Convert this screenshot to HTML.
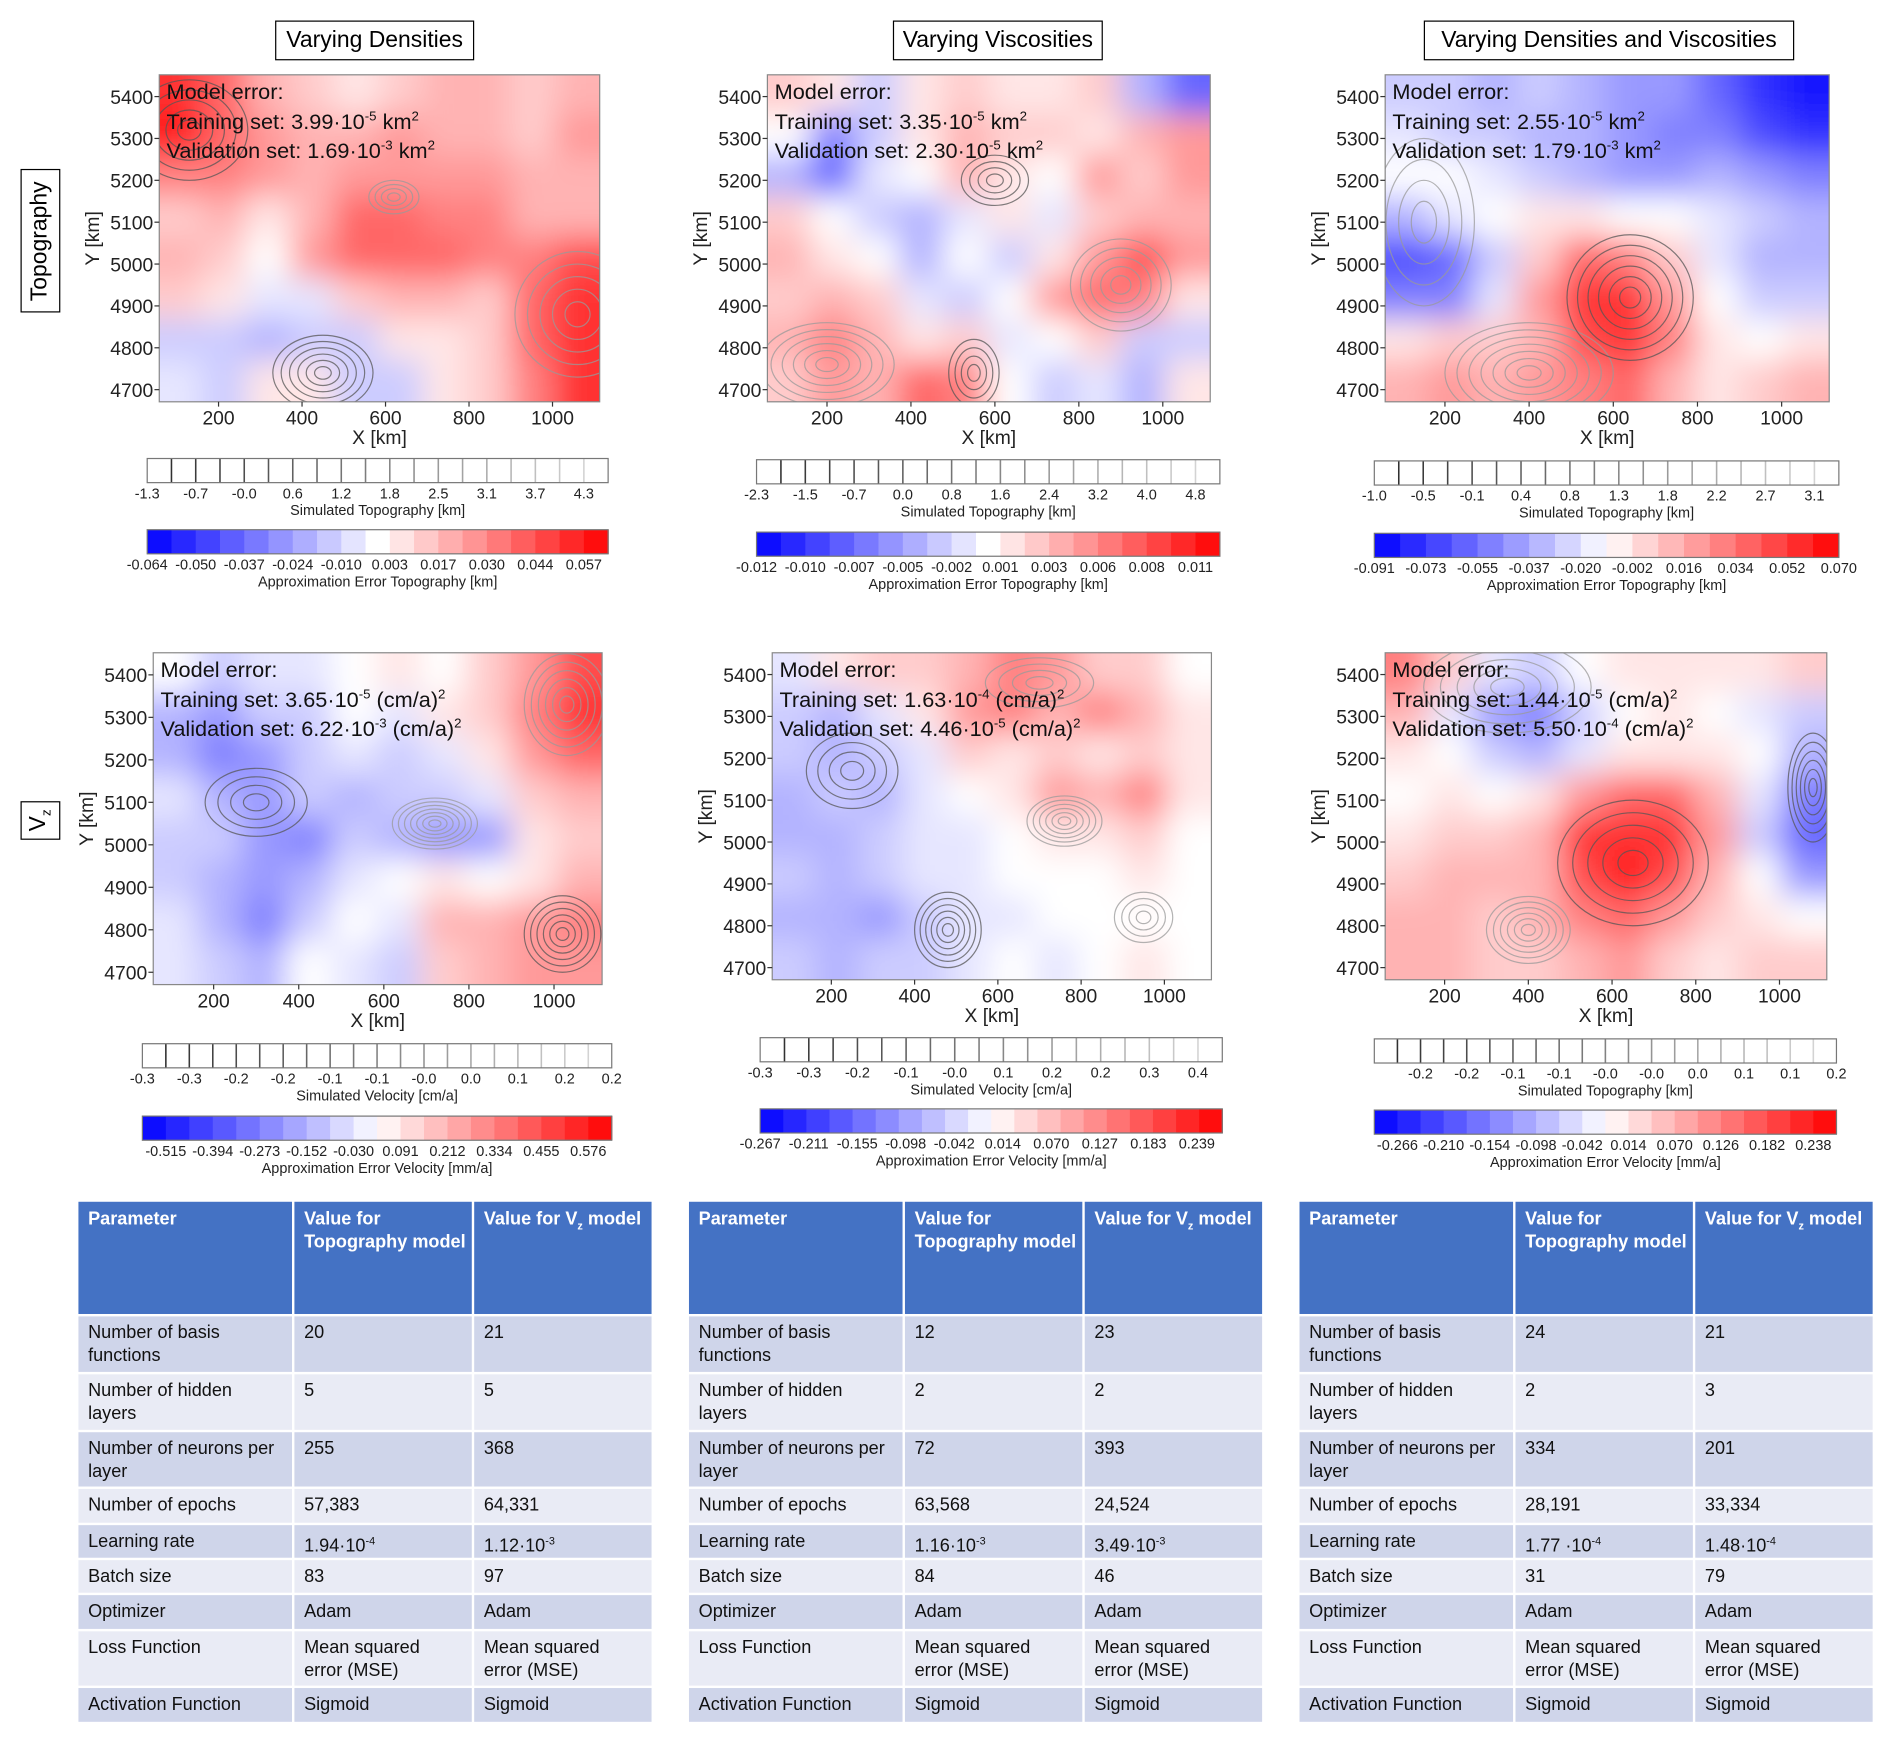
<!DOCTYPE html>
<html><head><meta charset="utf-8">
<style>
html,body{margin:0;padding:0;background:#fff;width:1892px;height:1742px;overflow:hidden}
#root{position:absolute;left:0;top:0;width:1568px;height:1444px;transform:scale(1.2066);transform-origin:0 0;font-family:"Liberation Sans",sans-serif}
.box{position:absolute;border:1.5px solid #000;background:#fff;font-size:19px;display:flex;align-items:center;justify-content:center;box-sizing:border-box}
.tbl{position:absolute;font-size:15px;color:#111}
.cell{position:absolute;box-sizing:border-box;padding:5px 8px;line-height:19px}
.hd{background:#4472C4;color:#fff;font-weight:bold}
.r0{background:#CFD5EA}.r1{background:#E9EBF5}
</style></head><body>
<div id="root">
<svg id="svg" width="1568" height="1444" style="position:absolute;left:0;top:0">
<defs><filter id="blur" x="-5%" y="-5%" width="110%" height="110%"><feGaussianBlur stdDeviation="13"/></filter></defs>
</svg>
<div class="box" style="left:228px;top:17px;width:165px;height:33px">Varying Densities</div>
<div class="box" style="left:740px;top:17px;width:174px;height:33px">Varying Viscosities</div>
<div class="box" style="left:1180px;top:17px;width:307px;height:33px">Varying Densities and Viscosities</div>
<div class="box" style="left:17px;top:140px;width:33px;height:119px"><span style="transform:rotate(-90deg);white-space:nowrap">Topography</span></div>
<div class="box" style="left:17px;top:664px;width:33px;height:32px"><span style="transform:rotate(-90deg);white-space:nowrap">V<sub style="font-size:11px">z</sub></span></div>
</div>
<script>
// ---------- data ----------
const xTicks=[200,400,600,800,1000];
const yTicks=[4700,4800,4900,5000,5100,5200,5300,5400];
const gridA1=[[0.8,0.6,0.3,0.2,0.1,0.2,0.3,0.3,0.2,0.3],[0.9,0.6,0.4,0.3,0.3,0.4,0.3,0.3,0.2,0.4],[0.5,0.5,0.4,0.3,0.4,0.4,0.4,0.4,0.3,0.3],[0.2,0.3,0.1,0.3,0.6,0.6,0.5,0.5,0.3,0.3],[0.3,0.2,0,0.4,0.6,0.6,0.6,0.5,0.5,0.7],[0.2,0.1,-0.1,-0.1,0.2,0.3,0.3,0.2,0.6,0.8],[-0.2,-0.2,-0.3,-0.2,-0.2,0.1,0.1,0.2,0.6,0.8],[-0.1,-0.2,0.1,0.1,-0.2,-0.2,0.1,0.2,0.5,0.8]];
const gridB1=[[0.2,0.1,-0.2,0.1,0.2,0.1,0.1,0.2,-0.3,-0.6],[0,-0.5,-0.2,0.1,0.3,0.2,0.2,0.1,0.3,0.4],[-0.3,-0.6,-0.1,0,0.3,0.1,0,0.4,0.2,0.4],[0.2,0,-0.2,-0.3,-0.1,0.1,-0.1,0.2,0.3,0.3],[0.3,0.1,0,-0.3,0,-0.2,0.1,0.4,0.7,0.4],[0.2,0.3,0.2,-0.1,-0.2,0,0.4,0.6,0.5,0.1],[0.3,0.5,0.3,0.1,0.2,-0.1,0,0.2,-0.2,-0.2],[0.2,0.4,0.3,0.6,0.5,0,-0.2,-0.1,-0.3,0.1]];
const gridC1=[[-0.2,-0.2,-0.3,-0.2,-0.3,-0.4,-0.4,-0.6,-0.8,-0.9],[-0.1,-0.2,-0.2,-0.3,-0.3,-0.4,-0.5,-0.5,-0.7,-0.8],[0,0,-0.1,-0.2,-0.3,-0.4,-0.4,-0.3,-0.4,-0.5],[-0.3,-0.1,0,0.1,0.1,0,0,-0.1,-0.2,-0.3],[-0.7,-0.6,-0.2,0.2,0.6,0.5,0.2,-0.1,-0.3,-0.3],[-0.5,-0.5,-0.1,0.4,0.8,0.8,0.4,0,-0.2,-0.2],[0.1,0.2,0.2,0.3,0.7,0.8,0.5,0.1,0,0.1],[0.3,0.4,0.3,0.4,0.5,0.6,0.3,0.1,0.2,0.3]];
const gridA2=[[0,-0.2,-0.1,-0.1,0,0.1,0,0.2,0.4,0.7],[-0.3,-0.4,-0.2,-0.2,0,-0.1,0.1,0.2,0.5,0.8],[-0.3,-0.5,-0.4,-0.2,-0.1,-0.2,-0.1,0.1,0.4,0.6],[-0.1,-0.3,-0.4,-0.2,-0.3,-0.2,-0.2,-0.1,0.2,0.3],[-0.2,-0.2,-0.4,-0.5,-0.2,-0.3,-0.4,-0.4,0.1,0.2],[-0.2,-0.3,-0.4,-0.3,-0.1,0,0.1,0,0.1,0.3],[-0.1,-0.3,-0.5,-0.2,0,-0.1,0.3,0.3,0.4,0.5],[-0.1,-0.2,-0.3,0,-0.1,-0.2,0.2,0.3,0.4,0.4]];
const gridB2=[[-0.1,0.1,0.2,0.2,0.3,0.5,0.4,0.2,0.2,0],[-0.2,-0.3,-0.1,0.1,0.4,0.5,0.3,0.5,0.3,0.1],[-0.2,-0.3,-0.2,-0.1,0.2,0.1,0.2,0.1,0.2,0.1],[-0.3,-0.2,-0.3,-0.1,0,0.1,0.4,0.3,0.5,0.1],[-0.3,-0.3,-0.2,-0.1,-0.1,0,0.1,0.1,0.2,0],[-0.2,-0.3,-0.2,-0.1,-0.1,0,0,0,0.1,0],[-0.3,-0.3,-0.4,-0.2,-0.1,-0.1,0,0,0,0],[-0.2,-0.3,-0.2,-0.2,-0.1,0,-0.1,0,0.1,0]];
const gridC2=[[0.5,0.2,-0.1,-0.2,0,0.1,0.1,0.1,0.1,0.2],[0.3,-0.1,-0.4,-0.5,-0.2,0,0.1,0,-0.1,-0.2],[0.1,0,-0.2,-0.3,-0.1,0.1,0.1,0.1,0,-0.3],[0,0.1,0,0.1,0.4,0.6,0.6,0.3,-0.1,-0.5],[0.1,0.2,0.2,0.3,0.8,0.8,0.8,0.4,-0.2,-0.6],[0.2,0.3,0.3,0.3,0.7,0.9,0.7,0.3,0,-0.4],[0.3,0.3,0.2,0.3,0.5,0.6,0.4,0.2,0.1,0],[0.3,0.3,0.2,0.2,0.3,0.4,0.2,0.1,0.2,0.2]];
const topoLabelsA1=["-1.3","-0.7","-0.0","0.6","1.2","1.8","2.5","3.1","3.7","4.3"];
const errLabelsA1=["-0.064","-0.050","-0.037","-0.024","-0.010","0.003","0.017","0.030","0.044","0.057"];
const topoLabelsB1=["-2.3","-1.5","-0.7","0.0","0.8","1.6","2.4","3.2","4.0","4.8"];
const errLabelsB1=["-0.012","-0.010","-0.007","-0.005","-0.002","0.001","0.003","0.006","0.008","0.011"];
const topoLabelsC1=["-1.0","-0.5","-0.1","0.4","0.8","1.3","1.8","2.2","2.7","3.1"];
const errLabelsC1=["-0.091","-0.073","-0.055","-0.037","-0.020","-0.002","0.016","0.034","0.052","0.070"];
const velLabelsA2=["-0.3","-0.3","-0.2","-0.2","-0.1","-0.1","-0.0","0.0","0.1","0.2","0.2"];
const errLabelsA2=["-0.515","-0.394","-0.273","-0.152","-0.030","0.091","0.212","0.334","0.455","0.576"];
const velLabelsB2=["-0.3","-0.3","-0.2","-0.1","-0.0","0.1","0.2","0.2","0.3","0.4"];
const errLabelsB2=["-0.267","-0.211","-0.155","-0.098","-0.042","0.014","0.070","0.127","0.183","0.239"];
const velLabelsC2=["-0.2","-0.2","-0.1","-0.1","-0.0","-0.0","0.0","0.1","0.1","0.2"];
const errLabelsC2=["-0.266","-0.210","-0.154","-0.098","-0.042","0.014","0.070","0.126","0.182","0.238"];
// contour ring groups: [x km, y km, rx km, ry km, count]
const ringsA1=[[620,5160,60,40,4],[450,4740,120,90,6],[1060,4880,150,150,5],[130,5320,140,120,5]];
const ringsB1=[[200,4760,160,100,6],[550,4740,60,80,4],[900,4950,120,110,5],[600,5200,80,60,4]];
const ringsC1=[[400,4740,200,120,7],[640,4920,150,150,6],[150,5100,120,200,4]];
const ringsA2=[[720,5050,100,60,7],[1020,4790,90,90,6],[1030,5330,100,120,6],[300,5100,120,80,4]];
const ringsB2=[[760,5050,90,60,6],[480,4790,80,90,6],[950,4820,70,60,4],[250,5170,110,90,4],[700,5380,130,60,4]];
const ringsC2=[[400,4790,100,80,6],[1080,5130,60,130,6],[350,5370,200,110,5],[650,4950,180,150,5]];

const panels=[
 {id:"a1",x0:132,x1:497,y0:62,y1:333,grid:gridA1,rings:ringsA1,lines:["Training set: 3.99·10|-5| km|2|","Validation set: 1.69·10|-3| km|2|"],
  bars:[{x:122,w:382,y:380,type:"c",cells:19,labels:topoLabelsA1,start:0,step:2,title:"Simulated Topography [km]"},{x:122,w:382,y:439,type:"e",cells:19,labels:errLabelsA1,start:0,step:2,title:"Approximation Error Topography [km]"}]},
 {id:"b1",x0:636,x1:1003,y0:62,y1:333,grid:gridB1,rings:ringsB1,lines:["Training set: 3.35·10|-5| km|2|","Validation set: 2.30·10|-5| km|2|"],
  bars:[{x:627,w:384,y:381,type:"c",cells:19,labels:topoLabelsB1,start:0,step:2,title:"Simulated Topography [km]"},{x:627,w:384,y:441,type:"e",cells:19,labels:errLabelsB1,start:0,step:2,title:"Approximation Error Topography [km]"}]},
 {id:"c1",x0:1148,x1:1516,y0:62,y1:333,grid:gridC1,rings:ringsC1,lines:["Training set: 2.55·10|-5| km|2|","Validation set: 1.79·10|-3| km|2|"],
  bars:[{x:1139,w:385,y:382,type:"c",cells:19,labels:topoLabelsC1,start:0,step:2,title:"Simulated Topography [km]"},{x:1139,w:385,y:442,type:"e",cells:18,labels:errLabelsC1,start:0,step:2,title:"Approximation Error Topography [km]"}]},
 {id:"a2",x0:127,x1:499,y0:541,y1:816,grid:gridA2,rings:ringsA2,lines:["Training set: 3.65·10|-5| (cm/a)|2|","Validation set: 6.22·10|-3| (cm/a)|2|"],
  bars:[{x:118,w:389,y:865,type:"c",cells:20,labels:velLabelsA2,start:0,step:2,title:"Simulated Velocity [cm/a]"},{x:118,w:389,y:925,type:"e",cells:20,labels:errLabelsA2,start:1,step:2,title:"Approximation Error Velocity [mm/a]"}]},
 {id:"b2",x0:640,x1:1004,y0:541,y1:812,grid:gridB2,rings:ringsB2,lines:["Training set: 1.63·10|-4| (cm/a)|2|","Validation set: 4.46·10|-5| (cm/a)|2|"],
  bars:[{x:630,w:383,y:860,type:"c",cells:19,labels:velLabelsB2,start:0,step:2,title:"Simulated Velocity [cm/a]"},{x:630,w:383,y:919,type:"e",cells:20,labels:errLabelsB2,start:0,step:2.1,title:"Approximation Error Velocity [mm/a]"}]},
 {id:"c2",x0:1148,x1:1514,y0:541,y1:812,grid:gridC2,rings:ringsC2,lines:["Training set: 1.44·10|-5| (cm/a)|2|","Validation set: 5.50·10|-4| (cm/a)|2|"],
  bars:[{x:1139,w:383,y:861,type:"c",cells:20,labels:velLabelsC2,start:2,step:2,title:"Simulated Topography [km]"},{x:1139,w:383,y:920,type:"e",cells:20,labels:errLabelsC2,start:1,step:2,title:"Approximation Error Velocity [mm/a]"}]}
];
const XMIN=58,XMAX=1113,YMIN=4671,YMAX=5452;

// ---------- drawing ----------
const NS="http://www.w3.org/2000/svg";
const svg=document.getElementById('svg');
function mk(tag,attrs,parent){const e=document.createElementNS(NS,tag);for(const k in attrs)e.setAttribute(k,attrs[k]);(parent||svg).appendChild(e);return e;}
function col(v){v=Math.max(-1,Math.min(1,v));let r,g,b;if(v>=0){r=255;g=b=Math.round(255*(1-v));}else{b=255;r=g=Math.round(255*(1+v));}return `rgb(${r},${g},${b})`;}

panels.forEach(p=>{
 const xs=v=>p.x0+(v-XMIN)/(XMAX-XMIN)*(p.x1-p.x0);
 const ys=v=>p.y1-(v-YMIN)/(YMAX-YMIN)*(p.y1-p.y0);
 const cp=mk('clipPath',{id:'clip-'+p.id},svg.querySelector('defs'));
 mk('rect',{x:p.x0,y:p.y0,width:p.x1-p.x0,height:p.y1-p.y0},cp);
 const g=mk('g',{'clip-path':`url(#clip-${p.id})`});
 
 
 const hb=mk('g',{filter:'url(#blur)'},g);
 const nr=p.grid.length,nc=p.grid[0].length;
 const dx=(XMAX-XMIN)/nc,dy=(YMAX-YMIN)/nr;
 p.grid.forEach((row,i)=>row.forEach((v,j)=>{
  let xa=xs(XMIN+j*dx),xb=xs(XMIN+(j+1)*dx),ya=ys(YMAX-i*dy),yb=ys(YMAX-(i+1)*dy);
  if(j==0)xa-=40;if(j==nc-1)xb+=40;if(i==0)ya-=40;if(i==nr-1)yb+=40;
  const r=mk('rect',{x:xa-1,y:ya-1,width:xb-xa+2,height:yb-ya+2,fill:col(v)},hb);
  
  
 }));
 const kx=(p.x1-p.x0)/(XMAX-XMIN),ky=(p.y1-p.y0)/(YMAX-YMIN);
 p.rings.forEach((rg,ri)=>{
  for(let k=1;k<=rg[4];k++){
   const f=k/rg[4];
   const e=mk('ellipse',{cx:xs(rg[0]),cy:ys(rg[1]),rx:rg[2]*kx*f,ry:rg[3]*ky*f,fill:'none',stroke:ri%2?'#555':'#999','stroke-width':1,opacity:0.75},g);
   
   
  }
 });
 const fr=mk('rect',{x:p.x0,y:p.y0,width:p.x1-p.x0,height:p.y1-p.y0,fill:'none',stroke:'#888','stroke-width':1});
 
 
 xTicks.forEach(t=>{
  mk('line',{x1:xs(t),x2:xs(t),y1:p.y1,y2:p.y1+4,stroke:'#333'});
  const tx=mk('text',{x:xs(t),y:p.y1+19,'font-size':16,'text-anchor':'middle',fill:'#222'});tx.textContent=t;
  
  
 });
 yTicks.forEach(t=>{
  mk('line',{x1:p.x0-4,x2:p.x0,y1:ys(t),y2:ys(t),stroke:'#333'});
  const tx=mk('text',{x:p.x0-5,y:ys(t)+6,'font-size':16,'text-anchor':'end',fill:'#222'});tx.textContent=t;
  
  
 });
 const xl=mk('text',{x:(p.x0+p.x1)/2,y:p.y1+35,'font-size':16,'text-anchor':'middle',fill:'#222'});xl.textContent='X [km]';
 
 
 const cy=(p.y0+p.y1)/2;
 const yl=mk('text',{x:p.x0-50,y:cy,'font-size':16,'text-anchor':'middle',fill:'#222',transform:`rotate(-90 ${p.x0-50} ${cy})`});yl.textContent='Y [km]';
 
 
 const mt=mk('text',{x:p.x0+6,y:p.y0+20,'font-size':18,fill:'#111'});mt.textContent='Model error:';
 
 
 p.lines.forEach((ln,li)=>{
  const t=mk('text',{x:p.x0+6,y:p.y0+45+li*24,'font-size':18,fill:'#111'});
  
  
  ln.split('|').forEach((s,si)=>{const sp=mk('tspan',si%2?{dy:-7,'font-size':11}:(si>0?{dy:7}:{}),t);sp.textContent=s;});
 });
 p.bars.forEach(b=>{
  const cw=b.w/b.cells,h=20;
  for(let i=0;i<b.cells;i++){
   let fill='#fff';
   if(b.type=='e'){fill=col(-1+2*(i+0.5)/b.cells);}
   const r=mk('rect',{x:b.x+i*cw,y:b.y,width:cw+0.5,height:h,fill:fill,stroke:'none'});
   
   
   if(b.type=='c'&&i>0){const gv=Math.round(40+180*i/b.cells);mk('line',{x1:b.x+i*cw,x2:b.x+i*cw,y1:b.y,y2:b.y+h,stroke:`rgb(${gv},${gv},${gv})`,'stroke-width':1.3});}
  }
  const fb=mk('rect',{x:b.x,y:b.y,width:b.w,height:h,fill:'none',stroke:'#777'});
  
  
  b.labels.forEach((l,li)=>{
   const t=mk('text',{x:b.x+(b.start+li*b.step)*cw,y:b.y+h+13,'font-size':12,'text-anchor':'middle',fill:'#222'});t.textContent=l;
   
   
  });
  const tt=mk('text',{x:b.x+b.w/2,y:b.y+h+27,'font-size':12,'text-anchor':'middle',fill:'#222'});tt.textContent=b.title;
  
  
 });
});

// ---------- tables ----------
const rowLabels=["Number of basis functions","Number of hidden layers","Number of neurons per layer","Number of epochs","Learning rate","Batch size","Optimizer","Loss Function","Activation Function"];
const topoVals=[["20","5","255","57,383","1.94·10<sup>-4</sup>","83","Adam","Mean squared error (MSE)","Sigmoid"],["12","2","72","63,568","1.16·10<sup>-3</sup>","84","Adam","Mean squared error (MSE)","Sigmoid"],["24","2","334","28,191","1.77 ·10<sup>-4</sup>","31","Adam","Mean squared error (MSE)","Sigmoid"]];
const vzVals=[["21","5","368","64,331","1.12·10<sup>-3</sup>","97","Adam","Mean squared error (MSE)","Sigmoid"],["23","2","393","24,524","3.49·10<sup>-3</sup>","46","Adam","Mean squared error (MSE)","Sigmoid"],["21","3","201","33,334","1.48·10<sup>-4</sup>","79","Adam","Mean squared error (MSE)","Sigmoid"]];
const rowTops=[1091,1139,1187,1234,1264,1293,1322,1352,1399];
const rowHs=[46,46,45,28,27,27,28,45,28];
const root=document.getElementById('root');
[65,571,1077].forEach((tx,ti)=>{
 const t=document.createElement('div');t.className='tbl';t.style.left='0';t.style.top='0';
 
 
 const cols=[[0,177],[179,147],[328,147]];
 const hdr=["Parameter","Value for Topography model","Value for V<sub style='font-size:9px'>z</sub> model"];
 let html='';
 cols.forEach((c,ci)=>{html+=`<div class="cell hd" style="left:${tx+c[0]}px;top:996px;width:${c[1]}px;height:93px;padding-right:4px">${hdr[ci]}</div>`;});
 rowLabels.forEach((rl,ri)=>{
  const vals=[rl,topoVals[ti][ri],vzVals[ti][ri]];
  cols.forEach((c,ci)=>{html+=`<div class="cell r${ri%2}" style="left:${tx+c[0]}px;top:${rowTops[ri]}px;width:${c[1]}px;height:${rowHs[ri]}px;padding-top:4px;padding-right:${ci?30:8}px">${vals[ci].replace(/<sup>/g,"<sup style='font-size:9px'>")}</div>`;});
 });
 t.innerHTML=html;root.appendChild(t);
});
</script>
</body></html>
